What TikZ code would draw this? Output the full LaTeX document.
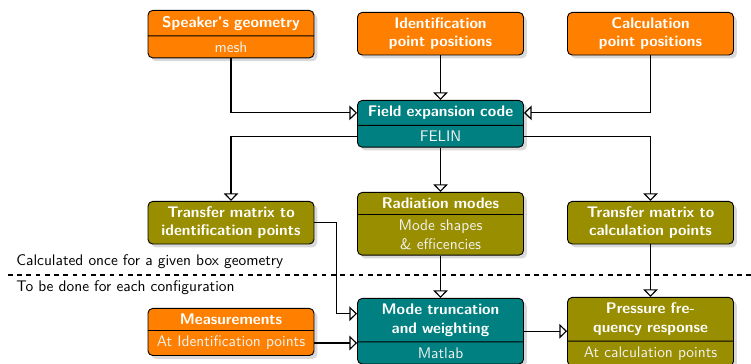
\documentclass[tikz,border=0pt]{standalone}
\usetikzlibrary{shapes.multipart,shadows,arrows.meta}
\definecolor{boxorange}{RGB}{255,128,0}
\definecolor{boxteal}{RGB}{0,128,128}
\definecolor{boxolive}{RGB}{153,142,0}
\colorlet{lite}{white!95!black}
\tikzset{
  box/.style={rectangle, draw=black, line width=0.6pt, rounded corners=3pt,
    text width=101.2pt, align=center, text=white, font=\sffamily,
    drop shadow={opacity=0.3}},
  splitbox/.style={box, rectangle split, rectangle split parts=2},
  inbox/.style={fill=boxorange},
  codebox/.style={fill=boxteal},
  resbox/.style={fill=boxolive},
  arr/.style={-{Triangle[open,width=9.5pt,length=5pt]}, line width=0.75pt}
}
\begin{document}
\begin{tikzpicture}[x=0.65pt, y=0.65pt]
  \useasboundingbox (0,0) rectangle (751,364);

  \node[splitbox, inbox, anchor=north] (sg) at (231,354)
    {\textbf{Speaker's geometry}\nodepart{two}\color{lite}mesh};
  \node[box, inbox, anchor=north] (ip) at (440.5,352)
    {\textbf{Identification\\point positions}};
  \node[box, inbox, anchor=north] (cp) at (650.5,352)
    {\textbf{Calculation\\point positions}};

  \node[splitbox, codebox, anchor=north] (fe) at (440.5,264)
    {\textbf{Field expansion code}\nodepart{two}\color{lite}FELIN};

  \node[box, resbox, anchor=north] (ti) at (231,163)
    {\textbf{Transfer matrix to\\identification points}};
  \node[splitbox, resbox, anchor=north] (rm) at (440.5,172)
    {\textbf{Radiation modes}\nodepart{two}\color{lite}Mode shapes\\\& efficencies};
  \node[box, resbox, anchor=north] (tc) at (650.5,163)
    {\textbf{Transfer matrix to\\calculation points}};

  \draw[dashed, line width=0.75pt] (8,89) -- (751,89);
  \node[anchor=base west, font=\sffamily, inner sep=0pt] (once) at (16,98.4)
    {Calculated once for a given box geometry};
  \node[anchor=base west, font=\sffamily, inner sep=0pt] (each) at (16,72.4)
    {To be done for each configuration};

  \node[splitbox, inbox, anchor=north] (ms) at (231,56)
    {\textbf{Measurements}\nodepart{two}\color{lite}At Identification points};
  \node[splitbox, codebox, anchor=north] (mt) at (440.5,66)
    {\textbf{Mode truncation\\and weighting}\nodepart{two}\color{lite}Matlab};
  \node[splitbox, resbox, anchor=north] (pr) at (650.5,67)
    {\textbf{Pressure fre-\\quency response}\nodepart{two}\color{lite}At calculation points};

  \draw[arr] (sg.south) |- (fe.one west);
  \draw[arr] (ip.south) -- (fe.north);
  \draw[arr] (cp.south) |- (fe.one east);
  \draw[arr] (fe.two west) -| (ti.north);
  \draw[arr] (fe.south) -- (rm.north);
  \draw[arr] (fe.two east) -| (tc.north);
  \draw[arr] (ti.east) -- ++(22,0) |- ([yshift=11.4pt]mt.west);
  \draw[arr] (ms.two east) -- (ms.two east -| mt.west);
  \draw[arr] (rm.south) -- (mt.north);
  \draw[arr] (mt.east) -- (mt.east -| pr.west);
  \draw[arr] (tc.south) -- (pr.north);
\end{tikzpicture}
\end{document}
